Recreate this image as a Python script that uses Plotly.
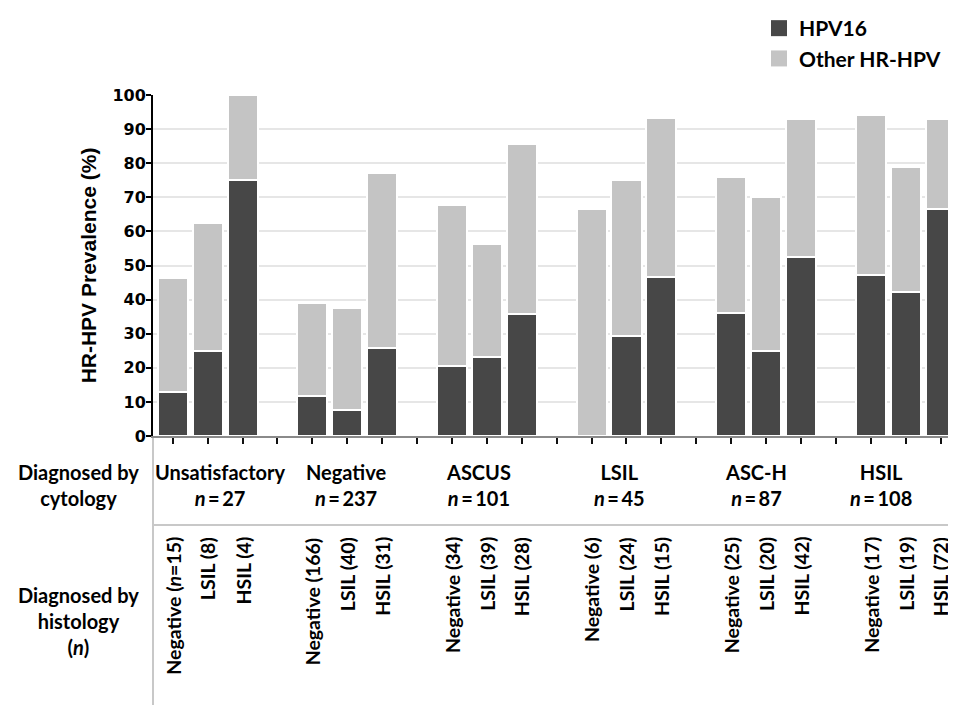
import plotly.graph_objects as go

# ---------------- data ----------------
cytology = ["Unsatisfactory", "Negative", "ASCUS", "LSIL", "ASC-H", "HSIL"]
cytology_n = [27, 237, 101, 45, 87, 108]
histology = ["Negative", "LSIL", "HSIL"]
histology_n = [
    [15, 8, 4],
    [166, 40, 31],
    [34, 39, 28],
    [6, 24, 15],
    [25, 20, 42],
    [17, 19, 72],
]
# total HR-HPV prevalence (%) per bar
total_hrhpv = [
    [46.2, 62.5, 100.0],
    [39.0, 37.5, 77.2],
    [67.6, 56.4, 85.7],
    [66.7, 75.0, 93.3],
    [76.0, 70.0, 92.9],
    [94.1, 78.9, 93.1],
]
# HPV16 prevalence (%) per bar
hpv16 = [
    [13.0, 25.0, 75.0],
    [11.8, 7.5, 25.8],
    [20.6, 23.1, 35.7],
    [0.0, 29.2, 46.7],
    [36.0, 25.0, 52.4],
    [47.1, 42.1, 66.7],
]
# horizontal centre offsets of the cytology labels (in bar slots)
cyto_label_x = [1.38, 4.97, 8.75, 12.8, 16.7, 20.3]

# ---------------- layout helpers ----------------
PAGE_PAD = 8                      # default page body margin
W, H = 956 - PAGE_PAD, 705 - PAGE_PAD
ML, MR, MT = 153 - PAGE_PAD, 0, 95 - PAGE_PAD
MB = H - (436 - PAGE_PAD)
plot_h = H - MT - MB
plot_w = W - ML - MR


def py(pix):
    """screen pixel row -> paper y"""
    return (H - MB - (pix - PAGE_PAD)) / plot_h


def px(pix):
    """screen pixel column -> paper x"""
    return (pix - PAGE_PAD - ML) / plot_w


xs, y16, yoth = [], [], []
for g in range(len(cytology)):
    for b in range(3):
        xs.append(g * 4 + b)
        y16.append(hpv16[g][b])
        yoth.append(round(total_hrhpv[g][b] - hpv16[g][b], 1))

C16 = "#474747"
COTH = "#c4c4c4"
FONT = "Lato"

fig = go.Figure()
fig.add_bar(x=xs, y=y16, marker=dict(color=C16, line=dict(color="white", width=2)),
            width=0.86, showlegend=False, name="HPV16")
fig.add_bar(x=xs, y=yoth, marker=dict(color=COTH, line=dict(color="white", width=2)),
            width=0.86, showlegend=False, name="Other HR-HPV")
# legend entries
fig.add_scatter(x=[None], y=[None], mode="markers", name="HPV16",
                marker=dict(symbol="square", size=20, color=C16))
fig.add_scatter(x=[None], y=[None], mode="markers", name="Other HR-HPV",
                marker=dict(symbol="square", size=20, color=COTH))

tickvals = list(range(0, 23))
fig.update_layout(
    width=W, height=H,
    margin=dict(l=ML, r=MR, t=MT, b=MB, autoexpand=False),
    barmode="stack",
    bargap=0,
    plot_bgcolor="white",
    paper_bgcolor="white",
    legend=dict(x=px(759), y=py(PAGE_PAD), xanchor="left", yanchor="top", traceorder="normal",
                font=dict(family=FONT, size=21, color="black", weight="bold"),
                itemsizing="trace", tracegroupgap=0, bgcolor="rgba(0,0,0,0)"),
    xaxis=dict(range=[-0.565, 22.44], tickvals=tickvals, ticktext=[""] * len(tickvals),
               showgrid=False, zeroline=False, showline=True, linecolor="#8a8a8a", linewidth=2,
               ticks="outside", ticklen=6, tickwidth=2, tickcolor="#111111"),
    yaxis=dict(range=[0, 100], dtick=10, showgrid=True, gridcolor="#e6e6e6", gridwidth=1.5,
               zeroline=False, showline=True, linecolor="black", linewidth=2,
               ticks="outside", ticklen=5, tickwidth=1.5, tickcolor="black",
               ticklabelstandoff=-3,
               tickfont=dict(family="DejaVu Sans", size=16, color="black", weight="bold"),
               title=dict(text="HR-HPV Prevalence (%)", standoff=10,
                          font=dict(family="Liberation Sans", size=21, color="black", weight="bold"))),
)

annots = []
tfont = dict(family=FONT, size=20, color="black", weight="bold")
rfont = dict(family=FONT, size=19.5, color="black", weight="bold")
# row headers
for txt, ypix in [("Diagnosed by<br>cytology", 485), ("Diagnosed by<br>histology<br>(<i>n</i>)", 621)]:
    annots.append(dict(text=txt, x=px(78), y=py(ypix), xref="paper", yref="paper",
                       showarrow=False, font=tfont, align="center",
                       xanchor="center", yanchor="middle"))

# cytology group labels
for g, name in enumerate(cytology):
    annots.append(dict(text=f"{name}<br><i>n</i>\u2009=\u2009{cytology_n[g]}", x=cyto_label_x[g], xref="x",
                       y=py(485), yref="paper", showarrow=False, font=tfont,
                       xanchor="center", yanchor="middle", align="center"))
# histology rotated labels
for g in range(len(cytology)):
    for b, hname in enumerate(histology):
        n = histology_n[g][b]
        txt = f"{hname} (<i>n</i>={n})" if (g == 0 and b == 0) else f"{hname} ({n})"
        annots.append(dict(text=txt, x=g * 4 + b, xref="x", y=py(535), yref="paper",
                           textangle=-90, showarrow=False, font=rfont,
                           xanchor="center", yanchor="top"))
fig.update_layout(annotations=annots)

# table lines
fig.add_shape(type="line", xref="paper", yref="paper", x0=0, x1=1, y0=py(525), y1=py(525),
              line=dict(color="#c8c8c8", width=2))
fig.add_shape(type="line", xref="paper", yref="paper", x0=0, x1=0, y0=py(438), y1=py(720),
              line=dict(color="#c8c8c8", width=2))

fig.write_html("out.html")
